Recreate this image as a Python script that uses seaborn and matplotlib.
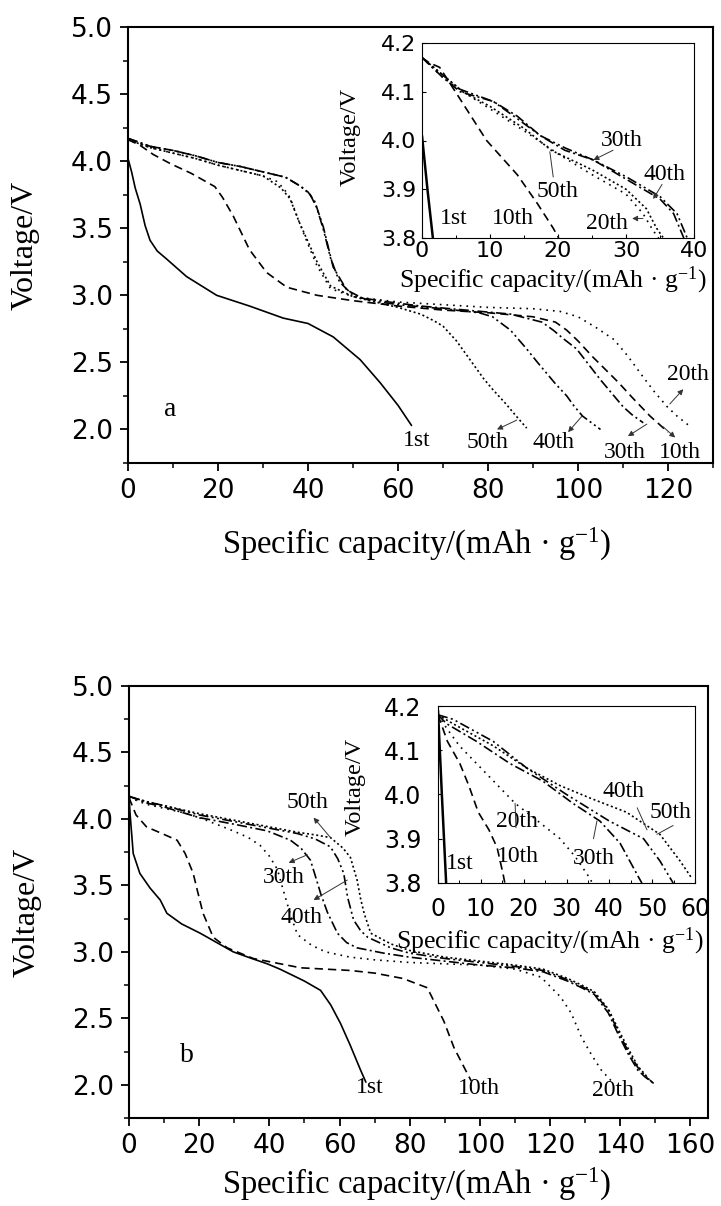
import matplotlib
matplotlib.use('Agg')
import matplotlib.pyplot as plt
import numpy as np
import pandas as pd
import seaborn as sns
from matplotlib.ticker import MultipleLocator, FormatStrFormatter

sns.set_style('ticks')
plt.rcParams['font.family'] = ['DejaVu Sans']
plt.rcParams['mathtext.fontset'] = 'custom'
plt.rcParams['mathtext.rm'] = 'Liberation Serif'
plt.rcParams['mathtext.it'] = 'Liberation Serif:italic'
plt.rcParams['mathtext.bf'] = 'Liberation Serif:bold'
for k in ['text.color', 'axes.labelcolor', 'xtick.color', 'ytick.color', 'axes.edgecolor']:
    plt.rcParams[k] = 'black'
SERIF = ['Liberation Serif', 'DejaVu Serif']

cycles = ['1st', '10th', '20th', '30th', '40th', '50th']

# ---------------- panel a (main) ----------------
a_1st_x = [0, 0.8, 1.6, 2.7, 3.8, 4.9, 6.5, 8.6, 13, 19.7, 27, 34.5, 40, 45.6, 51.6, 56, 60, 63]
a_1st_y = [4.02, 3.92, 3.80, 3.68, 3.52, 3.41, 3.33, 3.27, 3.14, 3.00, 2.92, 2.83, 2.79, 2.69, 2.52, 2.35, 2.18, 2.03]
a_10th_x = [0, 2.6, 5.6, 9.5, 14, 19.3, 21, 23.4, 27, 30.8, 35.3, 42, 50, 60, 70, 80, 90, 95, 97.5, 100, 103.3, 106, 109, 112, 116, 118, 120]
a_10th_y = [4.16, 4.12, 4.05, 3.98, 3.91, 3.81, 3.73, 3.59, 3.34, 3.17, 3.06, 3.00, 2.96, 2.92, 2.89, 2.87, 2.84, 2.80, 2.74, 2.66, 2.54, 2.45, 2.35, 2.24, 2.10, 2.04, 1.98]
a_20th_x = [0, 5, 10, 15, 20, 25, 30, 33, 34.5, 36, 38, 40, 42, 45, 50, 55, 60, 70, 80, 90, 96, 100, 104, 108, 111, 114.5, 117, 119.8, 122, 125]
a_20th_y = [4.16, 4.10, 4.06, 4.02, 3.97, 3.93, 3.89, 3.85, 3.80, 3.73, 3.55, 3.38, 3.22, 3.05, 2.99, 2.97, 2.95, 2.93, 2.91, 2.90, 2.88, 2.84, 2.76, 2.67, 2.55, 2.39, 2.28, 2.17, 2.10, 2.02]
a_30th_x = [0, 5, 10, 15, 20, 25, 30, 35, 38, 40, 41.5, 43.4, 45.6, 48.6, 52, 58, 65, 75, 85, 92, 94.5, 97, 99.7, 102, 105, 108, 110, 112, 114.5]
a_30th_y = [4.17, 4.11, 4.08, 4.04, 3.99, 3.96, 3.92, 3.88, 3.82, 3.77, 3.70, 3.51, 3.21, 3.04, 2.98, 2.95, 2.92, 2.89, 2.86, 2.80, 2.74, 2.67, 2.60, 2.50, 2.37, 2.25, 2.17, 2.11, 2.05]
a_40th_x = [0, 5, 10, 15, 20, 25, 30, 35, 38.5, 40.5, 42, 43.5, 45, 47, 50, 54, 60, 70, 78, 81, 85, 88.6, 91, 93, 95, 97.5, 99, 101, 103, 105]
a_40th_y = [4.17, 4.11, 4.08, 4.04, 3.99, 3.96, 3.92, 3.88, 3.81, 3.75, 3.65, 3.48, 3.28, 3.10, 3.00, 2.96, 2.93, 2.90, 2.87, 2.84, 2.74, 2.60, 2.50, 2.42, 2.34, 2.25, 2.18, 2.10, 2.05, 2.00]
a_50th_x = [0, 5, 10, 15, 20, 25, 30, 34, 36, 38, 40, 42, 45, 50, 55, 60, 65, 68, 70, 73, 76, 79, 81, 84, 86, 88.6]
a_50th_y = [4.16, 4.10, 4.06, 4.02, 3.97, 3.93, 3.89, 3.80, 3.72, 3.55, 3.40, 3.25, 3.07, 2.99, 2.95, 2.91, 2.86, 2.81, 2.77, 2.66, 2.52, 2.38, 2.30, 2.19, 2.11, 2.01]

# ---------------- panel a (inset) ----------------
ia_1st_x = [0, 0.8, 1.6]
ia_1st_y = [4.01, 3.90, 3.80]
ia_10th_x = [0, 1, 2.6, 5.6, 9.5, 14, 17, 19.3, 20.1]
ia_10th_y = [4.17, 4.16, 4.15, 4.085, 4.00, 3.93, 3.87, 3.82, 3.80]
ia_20th_x = [0, 3, 6, 10, 15, 20.3, 25, 30, 32.5, 34, 34.8]
ia_20th_y = [4.17, 4.13, 4.10, 4.065, 4.02, 3.97, 3.93, 3.89, 3.85, 3.815, 3.80]
ia_30th_x = [0, 3, 5.6, 10.5, 14, 17.4, 21, 25.2, 30.1, 35, 37, 38.5]
ia_30th_y = [4.17, 4.13, 4.10, 4.08, 4.05, 4.01, 3.98, 3.96, 3.92, 3.88, 3.85, 3.80]
ia_40th_x = [0, 3, 5.6, 10.5, 14, 17.4, 21, 25.2, 30.1, 35, 37.5, 39]
ia_40th_y = [4.17, 4.135, 4.105, 4.08, 4.045, 4.01, 3.985, 3.96, 3.925, 3.885, 3.85, 3.80]
ia_50th_x = [0, 3, 6, 10, 15, 19, 25, 30, 33, 34.5, 35.5]
ia_50th_y = [4.17, 4.135, 4.10, 4.07, 4.025, 3.98, 3.94, 3.90, 3.86, 3.82, 3.80]

# ---------------- panel b (main) ----------------
b_1st_x = [0, 0.3, 1.2, 3.1, 6, 8.9, 10.8, 15, 20.3, 25, 29.7, 35, 39.4, 43, 46.9, 50, 54.6, 57.5, 60.3, 63, 66, 67.5]
b_1st_y = [4.17, 4.04, 3.74, 3.59, 3.48, 3.39, 3.29, 3.21, 3.14, 3.07, 3.00, 2.95, 2.91, 2.87, 2.82, 2.78, 2.71, 2.60, 2.46, 2.30, 2.11, 2.02]
b_10th_x = [0, 2, 5, 9.4, 13.7, 16, 18.3, 19.4, 21.1, 24, 28, 35.4, 48.9, 63, 70, 78, 85, 89.7, 92.6, 96.5, 97.5]
b_10th_y = [4.16, 4.03, 3.94, 3.89, 3.84, 3.74, 3.59, 3.47, 3.29, 3.11, 3.03, 2.95, 2.88, 2.86, 2.84, 2.80, 2.73, 2.48, 2.28, 2.08, 2.03]
b_20th_x = [0, 5, 10, 16.6, 22, 29.7, 34, 37.4, 40, 42.3, 44, 46, 48, 52, 56, 63, 70, 80, 90, 100, 110, 117.4, 123, 126, 128.9, 131.7, 134.6, 137.4]
b_20th_y = [4.16, 4.11, 4.08, 4.04, 3.99, 3.91, 3.86, 3.80, 3.72, 3.62, 3.46, 3.28, 3.13, 3.05, 3.00, 2.96, 2.94, 2.92, 2.91, 2.90, 2.87, 2.81, 2.66, 2.54, 2.36, 2.23, 2.11, 2.03]
b_30th_x = [0, 5, 10, 20, 30, 39.4, 46, 49, 51.7, 53, 54.6, 56.5, 59.4, 62, 65, 72.6, 80, 90, 100, 110, 118, 125, 129, 132.6, 136.6, 139.4, 142.3, 145, 147, 149]
b_30th_y = [4.17, 4.12, 4.09, 4.01, 3.96, 3.91, 3.84, 3.78, 3.69, 3.58, 3.44, 3.30, 3.14, 3.07, 3.03, 2.99, 2.96, 2.93, 2.90, 2.88, 2.85, 2.78, 2.73, 2.68, 2.54, 2.38, 2.23, 2.11, 2.06, 2.02]
b_40th_x = [0, 5, 10, 20, 30, 40, 48, 53, 57.4, 59.5, 61.2, 62.3, 64, 66, 68, 74.6, 80, 90, 100, 110, 118, 125, 129, 132.6, 136.6, 139.4, 142.3, 145, 147, 149.5]
b_40th_y = [4.17, 4.13, 4.10, 4.03, 3.98, 3.93, 3.89, 3.85, 3.79, 3.70, 3.59, 3.41, 3.24, 3.16, 3.11, 3.03, 2.99, 2.95, 2.92, 2.89, 2.86, 2.79, 2.74, 2.69, 2.56, 2.40, 2.25, 2.13, 2.07, 2.01]
b_50th_x = [0, 5, 10, 20, 30, 40, 48, 53, 57.4, 61, 63.1, 65, 66, 67, 68.9, 74.6, 80, 90, 100, 110, 118, 125, 129, 132.6, 136.6, 139.4, 142.3, 145, 147, 148.5]
b_50th_y = [4.17, 4.13, 4.10, 4.04, 3.99, 3.94, 3.90, 3.88, 3.86, 3.78, 3.71, 3.54, 3.40, 3.29, 3.14, 3.06, 3.01, 2.96, 2.93, 2.90, 2.87, 2.80, 2.75, 2.70, 2.57, 2.42, 2.27, 2.14, 2.08, 2.03]

# ---------------- panel b (inset) ----------------
ib_1st_x = [0, 0.9, 1.9]
ib_1st_y = [4.19, 4.00, 3.80]
ib_10th_x = [0, 2.2, 5.1, 7.2, 9.4, 11.9, 13.8, 15.2, 15.6]
ib_10th_y = [4.18, 4.12, 4.07, 4.02, 3.96, 3.92, 3.88, 3.82, 3.80]
ib_20th_x = [0, 2, 5, 9, 13, 18, 22, 28.5, 32, 35.5, 36]
ib_20th_y = [4.18, 4.15, 4.11, 4.07, 4.03, 3.98, 3.95, 3.90, 3.86, 3.81, 3.80]
ib_30th_x = [0, 2, 9, 16.8, 24.5, 31.5, 37.8, 42.5, 47, 47.6]
ib_30th_y = [4.18, 4.16, 4.12, 4.07, 4.03, 3.98, 3.94, 3.89, 3.81, 3.80]
ib_40th_x = [0, 3.5, 12.9, 20.7, 30, 40, 48, 51.8, 54.9]
ib_40th_y = [4.18, 4.17, 4.12, 4.06, 4.00, 3.94, 3.90, 3.85, 3.80]
ib_50th_x = [0, 3.5, 12.9, 20.7, 28.5, 36, 44, 51.8, 56.5, 59.3]
ib_50th_y = [4.18, 4.16, 4.11, 4.06, 4.02, 3.99, 3.96, 3.91, 3.85, 3.81]

# ---------------- annotation texts ----------------
a_labels = ['1st', '50th', '40th', '30th', '10th', '20th']
a_label_pos = [(64.2, 1.92), (80, 1.90), (94.5, 1.90), (110.4, 1.83), (122.7, 1.83), (124.4, 2.41)]
a_arrows = [((86.4, 2.07), (82, 2.0)), ((100.9, 2.10), (97.8, 1.98)), ((115.3, 2.04), (111.1, 1.95)),
            ((118.9, 2.02), (121.6, 1.94)), ((120.4, 2.19), (123.4, 2.30))]
ia_labels = ['1st', '10th', '50th', '20th', '30th', '40th']
ia_label_pos = [(4.6, 3.84), (13.4, 3.84), (20, 3.895), (27.2, 3.83), (29.4, 4.0), (35.7, 3.93)]
ia_arrows = [((28.1, 3.98), (25.2, 3.96)), ((35.3, 3.91), (34, 3.88)), ((32.5, 3.84), (30.9, 3.84))]
ia_lines = [((19.3, 3.925), (18.8, 3.977))]

b_labels = ['1st', '10th', '20th', '50th', '30th', '40th']
b_label_pos = [(68.6, 1.98), (99.8, 1.97), (138, 1.96), (50.8, 4.12), (44, 3.56), (49.3, 3.26)]
b_arrows = [((57.4, 3.86), (52.6, 4.01)), ((50.8, 3.73), (45.5, 3.67)), ((62.2, 3.54), (52.6, 3.39))]
ib_labels = ['1st', '10th', '20th', '30th', '40th', '50th']
ib_label_pos = [(5.1, 3.845), (18.7, 3.86), (18.4, 3.94), (36.3, 3.856), (43.3, 4.006), (54.2, 3.96)]
ib_lines = [((18.2, 3.925), (18, 3.98)), ((36.3, 3.90), (37.1, 3.94)), ((46.5, 3.97), (48.8, 3.92)),
            ((54.9, 3.93), (51.1, 3.91))]

dash_map = {'1st': '', '10th': (5, 3), '20th': (1, 3), '30th': (6, 2, 1.2, 2),
            '40th': (6, 2, 1.2, 2, 1.2, 2), '50th': (1.2, 1.6)}
black = {c: 'black' for c in cycles}


def make_df(xs, ys):
    frames = []
    for c, x, y in zip(cycles, xs, ys):
        frames.append(pd.DataFrame({'capacity': x, 'voltage': y, 'cycle': c}))
    return pd.concat(frames, ignore_index=True)


df_a = make_df([a_1st_x, a_10th_x, a_20th_x, a_30th_x, a_40th_x, a_50th_x],
               [a_1st_y, a_10th_y, a_20th_y, a_30th_y, a_40th_y, a_50th_y])
df_ia = make_df([ia_1st_x, ia_10th_x, ia_20th_x, ia_30th_x, ia_40th_x, ia_50th_x],
                [ia_1st_y, ia_10th_y, ia_20th_y, ia_30th_y, ia_40th_y, ia_50th_y])
df_b = make_df([b_1st_x, b_10th_x, b_20th_x, b_30th_x, b_40th_x, b_50th_x],
               [b_1st_y, b_10th_y, b_20th_y, b_30th_y, b_40th_y, b_50th_y])
df_ib = make_df([ib_1st_x, ib_10th_x, ib_20th_x, ib_30th_x, ib_40th_x, ib_50th_x],
                [ib_1st_y, ib_10th_y, ib_20th_y, ib_30th_y, ib_40th_y, ib_50th_y])

W, H = 721, 1206
fig = plt.figure(figsize=(W / 100, H / 100), dpi=100)


def rect(l, r, t, b):
    return [l / W, 1 - b / H, (r - l) / W, (b - t) / H]


def fx(px):
    return px / W


def fy(py):
    return 1 - py / H


def draw(ax, df, lw):
    sns.lineplot(data=df, x='capacity', y='voltage', hue='cycle', style='cycle',
                 palette=black, dashes=dash_map, sort=False, estimator=None,
                 legend=False, ax=ax, linewidth=lw)
    ax.set_xlabel('')
    ax.set_ylabel('')


def style_main(ax, xmax, xmajor):
    ax.set_xlim(0, xmax)
    ax.set_ylim(1.75, 5.0)
    ax.xaxis.set_major_locator(MultipleLocator(xmajor))
    ax.xaxis.set_minor_locator(MultipleLocator(xmajor / 2))
    ax.yaxis.set_major_locator(MultipleLocator(0.5))
    ax.yaxis.set_minor_locator(MultipleLocator(0.25))
    ax.yaxis.set_major_formatter(FormatStrFormatter('%.1f'))
    ax.tick_params(which='major', direction='out', length=6, width=1.3, labelsize=19, pad=5,
                   top=False, right=False, colors='black')
    ax.tick_params(which='minor', direction='out', length=3.5, width=1.1, top=False, right=False,
                   colors='black')
    for s in ax.spines.values():
        s.set_linewidth(1.5)
        s.set_color('black')


def style_inset(ax, xmax, xmajor, xpad, ypad, size):
    ax.set_xlim(0, xmax)
    ax.set_ylim(3.8, 4.2)
    ax.xaxis.set_major_locator(MultipleLocator(xmajor))
    ax.xaxis.set_minor_locator(MultipleLocator(xmajor / 2))
    ax.yaxis.set_major_locator(MultipleLocator(0.1))
    ax.yaxis.set_major_formatter(FormatStrFormatter('%.1f'))
    ax.tick_params(which='major', direction='in', length=3, width=0.8, labelsize=size,
                   top=False, right=False, colors='black')
    ax.tick_params(axis='x', which='major', pad=xpad)
    ax.tick_params(axis='y', which='major', pad=ypad)
    ax.tick_params(which='minor', direction='in', length=2, width=0.7, top=False, right=False,
                   colors='black')
    ax.patch.set_alpha(0)
    for s in ax.spines.values():
        s.set_linewidth(0.8)
        s.set_color('black')


def put_labels(ax, labels, pos, size):
    for t, (x, y) in zip(labels, pos):
        ax.text(x, y, t, family=SERIF, fontsize=size, ha='center', va='center', clip_on=False,
                color='black')


def put_arrows(ax, arrows, style='-|>'):
    for tail, head in arrows:
        ax.annotate('', xy=head, xytext=tail,
                    arrowprops=dict(arrowstyle=style, color='0.2', lw=0.7, mutation_scale=8,
                                    shrinkA=0, shrinkB=0))


xlabel_txt = 'Specific capacity/(mAh · g$^{-1}$)'

# ---- panel a ----
ax_a = fig.add_axes(rect(128, 713, 27, 463))
draw(ax_a, df_a, 1.2)
style_main(ax_a, 130, 20)
put_labels(ax_a, a_labels, a_label_pos, 17)
put_arrows(ax_a, a_arrows)
ax_a.text(9.3, 2.15, 'a', family=SERIF, fontsize=20, ha='center', va='center')

in_a = fig.add_axes(rect(422, 694, 43, 238))
draw(in_a, df_ia, 1.2)
style_inset(in_a, 40, 10, 2, 4, 16)
put_labels(in_a, ia_labels, ia_label_pos, 17)
put_arrows(in_a, ia_arrows)
put_arrows(in_a, ia_lines, style='-')
in_a.lines[0].set_linewidth(1.8)

fig.text(fx(25), fy(245), 'Voltage/V', family=SERIF, fontsize=23, rotation=90, ha='center', va='center')
fig.text(fx(417), fy(544), xlabel_txt, family=SERIF, fontsize=23.5, ha='center', va='center')
fig.text(fx(350), fy(137), 'Voltage/V', family=SERIF, fontsize=17.5, rotation=90, ha='center', va='center')
fig.text(fx(553), fy(280), xlabel_txt, family=SERIF, fontsize=18.5, ha='center', va='center')

# ---- panel b ----
ax_b = fig.add_axes(rect(129, 708, 686, 1118))
draw(ax_b, df_b, 1.2)
style_main(ax_b, 165, 20)
put_labels(ax_b, b_labels, b_label_pos, 17)
put_arrows(ax_b, b_arrows)
ax_b.text(16.5, 2.22, 'b', family=SERIF, fontsize=20, ha='center', va='center')

in_b = fig.add_axes(rect(438, 695, 706, 883))
draw(in_b, df_ib, 1.2)
style_inset(in_b, 60, 10, 10, 12, 17)
in_b.xaxis.set_minor_locator(MultipleLocator(5))
put_labels(in_b, ib_labels, ib_label_pos, 17)
put_arrows(in_b, ib_lines, style='-')
in_b.lines[0].set_linewidth(1.8)

fig.text(fx(27), fy(912), 'Voltage/V', family=SERIF, fontsize=23, rotation=90, ha='center', va='center')
fig.text(fx(417), fy(1184), xlabel_txt, family=SERIF, fontsize=23.5, ha='center', va='center')
fig.text(fx(355), fy(787), 'Voltage/V', family=SERIF, fontsize=17.5, rotation=90, ha='center', va='center')
fig.text(fx(550), fy(941), xlabel_txt, family=SERIF, fontsize=18.5, ha='center', va='center')

fig.savefig('out.png', dpi=100)
